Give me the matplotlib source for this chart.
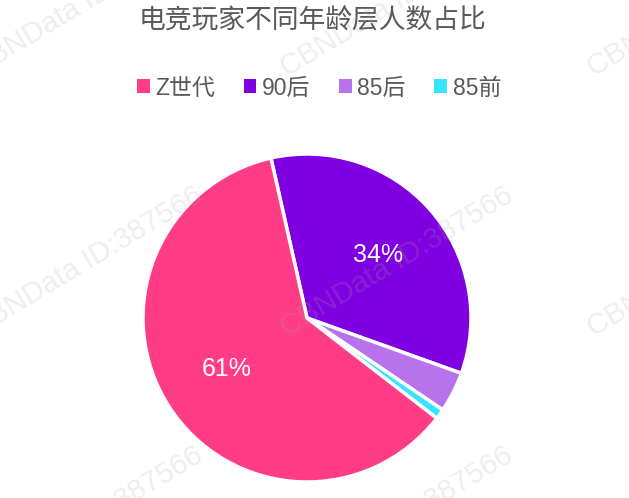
import matplotlib
matplotlib.use("Agg")
import matplotlib.pyplot as plt

plt.rcParams['font.family'] = ['Liberation Sans', 'Noto Sans CJK SC', 'DejaVu Sans']

title = "电竞玩家不同年龄层人数占比"
categories = ["Z世代", "90后", "85后", "85前"]
values = [61, 34, 4, 1]
colors = ["#FF3C85", "#7F00E0", "#B873EC", "#33E5FF"]
watermark = "CBNData ID:387566"

W, H = 629, 498
fig = plt.figure(figsize=(W / 100, H / 100), dpi=100)

cx, cy, R = 307, 318, 164
ax = fig.add_axes([(cx - R) / W, (H - cy - R) / H, 2 * R / W, 2 * R / H])

def fmt(p):
    return f"{p:.0f}%" if p >= 10 else ""

# order drawing: 90后 first clockwise from top, then 85后, 85前, Z世代
order = [1, 2, 3, 0]
wedges, texts, autotexts = ax.pie(
    [values[i] for i in order],
    colors=[colors[i] for i in order],
    startangle=102.7, counterclock=False,
    autopct=fmt, pctdistance=0.58,
    wedgeprops=dict(edgecolor='white', linewidth=2.5),
    textprops=dict(color='white', fontsize=18),
)
ax.set_xlim(-1, 1)
ax.set_ylim(-1, 1)
ax.set_aspect('equal')
ax.axis('off')

fig.text(313 / W, 1 - 22 / H, title, ha='center', va='center',
         fontsize=19.3, color='#595959')

handles = [wedges[order.index(i)] for i in range(len(categories))]
leg = fig.legend(handles, categories, loc='center', ncol=4,
                 bbox_to_anchor=(319 / W, 1 - 88 / H), frameon=False,
                 fontsize=16.5, handlelength=0.55, handleheight=0.55,
                 handletextpad=0.25, columnspacing=1.25, labelcolor='#595959')
for h in leg.legend_handles:
    h.set_edgecolor('none')
    h.set_linewidth(0)

# watermarks
for ys in (77, 337, 597):
    for xs in (-23, 287, 594):
        fig.text(xs / W, 1 - ys / H, watermark, rotation=31,
                 rotation_mode='anchor', ha='left', va='baseline',
                 fontsize=21, color='#aaaaaa', alpha=0.2, zorder=5)

fig.savefig("out.png", dpi=100, facecolor='white')
